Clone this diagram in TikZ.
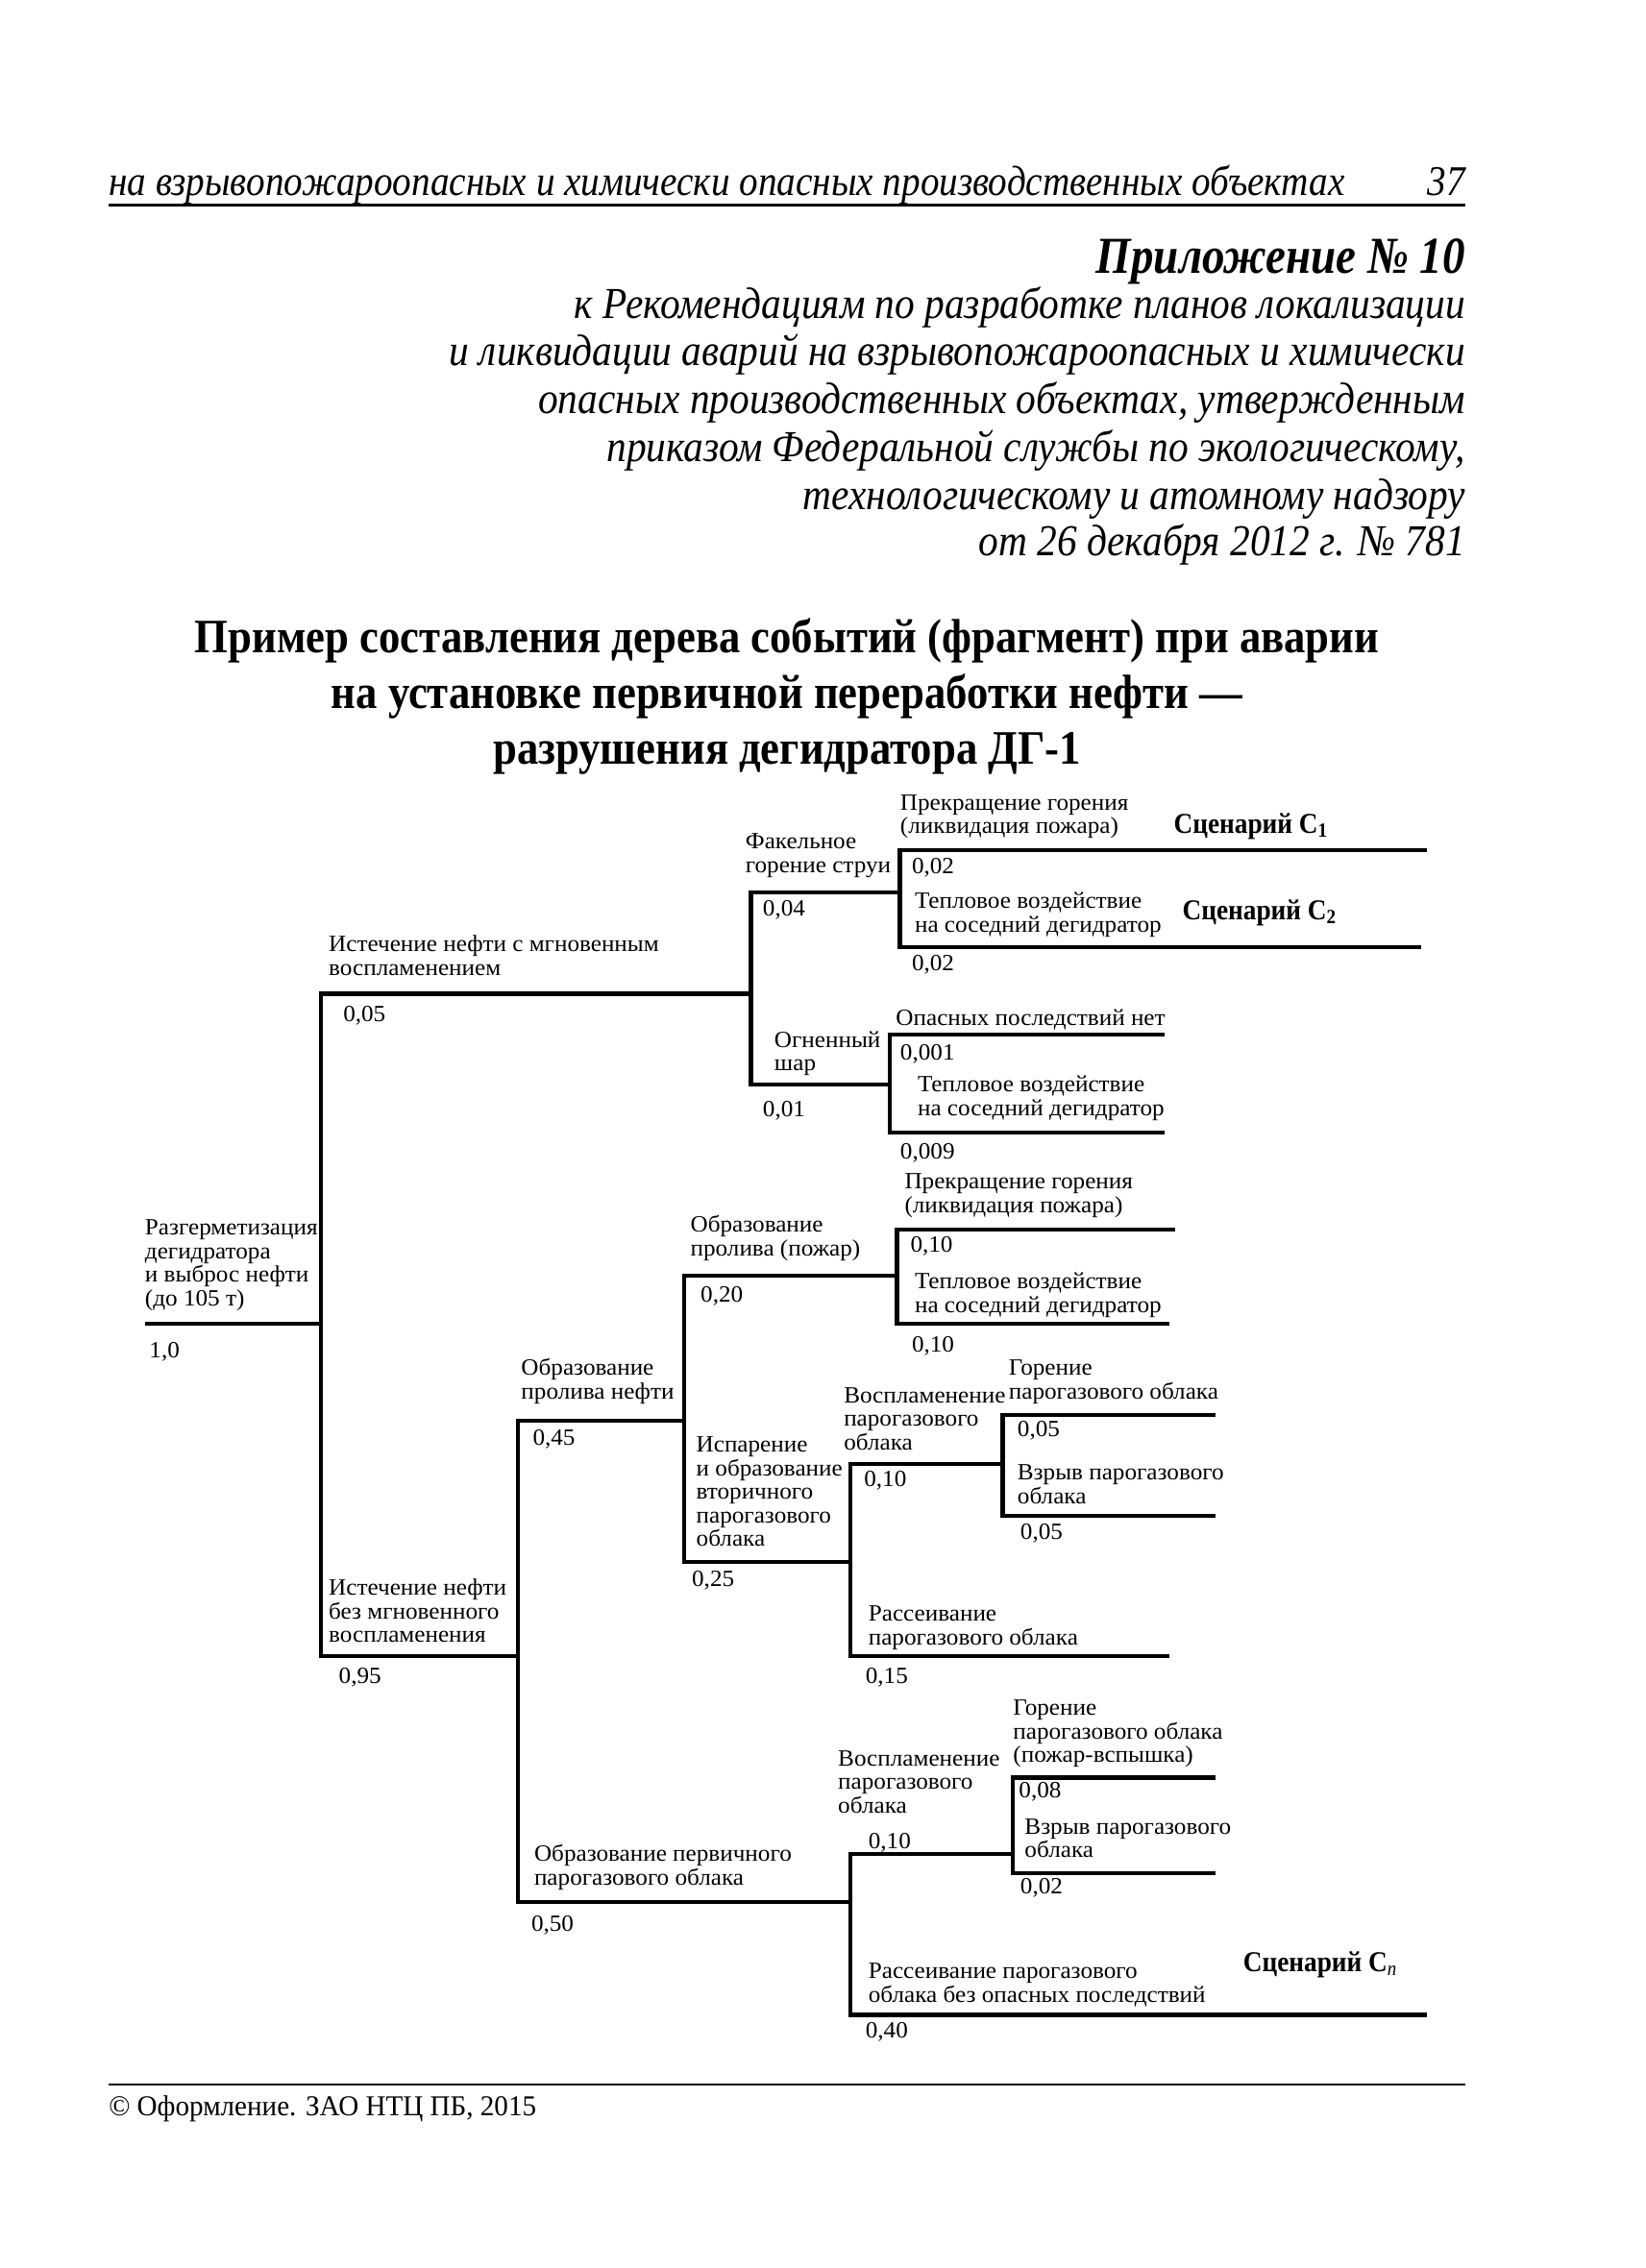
\documentclass[tikz,border=0pt]{standalone}
\usepackage{fontspec}
\setmainfont{Liberation Serif}
\newfontfamily\condserif[FakeStretch=1.04]{Liberation Serif}
\newfontfamily\footserif[FakeStretch=0.97]{Liberation Serif}
\newfontfamily\condital[FakeStretch=0.89]{Liberation Serif Italic}
\newfontfamily\subital[FakeStretch=0.9]{Liberation Serif Italic}
\newfontfamily\condbold[FakeStretch=0.894]{Liberation Serif Bold}
\newfontfamily\scenbold[FakeStretch=0.91]{Liberation Serif Bold}
\newfontfamily\condbi[FakeStretch=0.87]{Liberation Serif Bold Italic}
\newcommand\mlines[1]{\begin{tabular}[t]{@{}l@{}}#1\end{tabular}}
\newcommand\treefs{\condserif\fontsize{12.1}{12.2}\selectfont}
\newcommand\scenfs{\scenbold\fontsize{15}{16}\selectfont}
\begin{document}
\begin{tikzpicture}[x=0.75285pt,y=-0.75285pt,
  lbl/.style={anchor=base west, inner sep=0pt, font=\treefs},
  prob/.style={anchor=base west, inner sep=0pt, font=\treefs},
  scen/.style={anchor=base west, inner sep=0pt, font=\scenfs},
  br/.style={line width=2.1pt, line cap=butt, line join=miter},
  hdr/.style={inner sep=0pt, font=\condital\fontsize{22}{26}\selectfont},
  sub/.style={inner sep=0pt, anchor=base east, font=\subital\fontsize{23}{27}\selectfont},
  ttl/.style={inner sep=0pt, anchor=base, font=\condbold\fontsize{25}{30}\selectfont}]
\useasboundingbox[fill=white] (0,0) rectangle (1137,1568);

% ---------- page header ----------
\node[hdr, anchor=base west] (hdrtxt) at (75,135) {на взрывопожароопасных и химически опасных производственных объектах};
\node[hdr, anchor=base east] (pagenum) at (1013,135) {37};
\coordinate (hrA) at (75,142);
\coordinate (hrB) at (1013,142);
\draw[line width=1.4pt] (hrA) -- (hrB);

\node[inner sep=0pt, anchor=base east, font=\condbi\fontsize{27}{30}\selectfont] (app) at (1013,189) {Приложение №~10};
\node[sub] (s1) at (1013,220) {к Рекомендациям по разработке планов локализации};
\node[sub] (s2) at (1013,253) {и ликвидации аварий на взрывопожароопасных и химически};
\node[sub] (s3) at (1013,286) {опасных производственных объектах, утвержденным};
\node[sub] (s4) at (1013,319) {приказом Федеральной службы по экологическому,};
\node[sub] (s5) at (1013,352) {технологическому и атомному надзору};
\node[sub] (s6) at (1013,384) {от 26 декабря 2012 г. №~781};

% ---------- title ----------
\node[ttl] (t1) at (544,451) {Пример составления дерева событий (фрагмент) при аварии};
\node[ttl] (t2) at (544,490) {на установке первичной переработки нефти —};
\node[ttl] (t3) at (544,528) {разрушения дегидратора ДГ-1};

% ---------- tree coordinates ----------
\coordinate (r0) at (100,915);
\coordinate (r1) at (222,915);
\coordinate (aT) at (222,687);
\coordinate (aB) at (222,1145);
% upper branch
\coordinate (uE) at (519,687);
\coordinate (bT) at (519,617);
\coordinate (bB) at (519,750);
\coordinate (fE) at (622,617);
\coordinate (cT) at (622,588);
\coordinate (cB) at (622,655);
\coordinate (c1E) at (986,588);
\coordinate (c2E) at (982,655);
\coordinate (gE) at (615,750);
\coordinate (dT) at (615,715);
\coordinate (dB) at (615,783);
\coordinate (d1E) at (805,715);
\coordinate (d2E) at (805,783);
% lower branch
\coordinate (lE) at (358,1145);
\coordinate (eT) at (358,982);
\coordinate (eB) at (358,1315);
\coordinate (pE) at (473,982);
\coordinate (hT) at (473,882);
\coordinate (hB) at (473,1080);
\coordinate (iE) at (620,882);
\coordinate (jT) at (620,850);
\coordinate (jB) at (620,915);
\coordinate (j1E) at (812,850);
\coordinate (j2E) at (808,915);
\coordinate (kE) at (588,1080);
\coordinate (mT) at (588,1012);
\coordinate (mB) at (588,1145);
\coordinate (nE) at (693,1012);
\coordinate (oT) at (693,978);
\coordinate (oB) at (693,1048);
\coordinate (o1E) at (840,978);
\coordinate (o2E) at (840,1048);
\coordinate (m2E) at (808,1145);
\coordinate (qE) at (588,1315);
\coordinate (sT) at (588,1282);
\coordinate (sB) at (588,1393);
\coordinate (vE) at (700,1282);
\coordinate (wT) at (700,1229);
\coordinate (wB) at (700,1295);
\coordinate (w1E) at (840,1229);
\coordinate (w2E) at (840,1295);
\coordinate (s2E) at (986,1393);

% ---------- tree branches ----------
\draw[br] (r0) -- (r1);
\draw[br] (uE) -- (aT) -- (aB) -- (lE);
\draw[br] (fE) -- (bT) -- (bB) -- (gE);
\draw[br] (c1E) -- (cT) -- (cB) -- (c2E);
\draw[br] (d1E) -- (dT) -- (dB) -- (d2E);
\draw[br] (pE) -- (eT) -- (eB) -- (qE);
\draw[br] (iE) -- (hT) -- (hB) -- (kE);
\draw[br] (j1E) -- (jT) -- (jB) -- (j2E);
\draw[br] (nE) -- (mT) -- (mB) -- (m2E);
\draw[br] (o1E) -- (oT) -- (oB) -- (o2E);
\draw[br] (vE) -- (sT) -- (sB) -- (s2E);
\draw[br] (w1E) -- (wT) -- (wB) -- (w2E);

% ---------- tree texts ----------
\node[lbl] (root) at (100,854) {\mlines{Разгерметизация\\дегидратора\\и выброс нефти\\(до 105 т)}};
\node[prob] (p10) at (103,939) {1,0};

\node[lbl] (ev1) at (227,658) {\mlines{Истечение нефти с мгновенным\\воспламенением}};
\node[prob] (p005) at (237,706) {0,05};

\node[lbl] (ev2) at (515,587) {\mlines{Факельное\\горение струи}};
\node[prob] (p004) at (527,633) {0,04};

\node[lbl] (ev3) at (622,560) {\mlines{Прекращение горения\\(ликвидация пожара)}};
\node[scen] (sc1) at (811,576) {Сценарий С\textsubscript{1}};
\node[prob] (p002a) at (630,604) {0,02};

\node[lbl] (ev4) at (632,628) {\mlines{Тепловое воздействие\\на соседний дегидратор}};
\node[scen] (sc2) at (817,636) {Сценарий С\textsubscript{2}};
\node[prob] (p002b) at (630,671) {0,02};

\node[lbl] (ev5) at (535,724) {\mlines{Огненный\\шар}};
\node[prob] (p001) at (527,772) {0,01};

\node[lbl] (ev6) at (619,709) {Опасных последствий нет};
\node[prob] (p0001) at (622,733) {0,001};

\node[lbl] (ev7) at (634,755) {\mlines{Тепловое воздействие\\на соседний дегидратор}};
\node[prob] (p0009) at (622,801) {0,009};

\node[lbl] (ev8) at (625,822) {\mlines{Прекращение горения\\(ликвидация пожара)}};
\node[prob] (p010a) at (629,866) {0,10};

\node[lbl] (ev9) at (477,852) {\mlines{Образование\\пролива (пожар)}};
\node[prob] (p020) at (484,900) {0,20};

\node[lbl] (ev10) at (632,891) {\mlines{Тепловое воздействие\\на соседний дегидратор}};
\node[prob] (p010b) at (630,935) {0,10};

\node[lbl] (ev11) at (360,951) {\mlines{Образование\\пролива нефти}};
\node[prob] (p045) at (368,999) {0,45};

\node[lbl] (ev12) at (481,1004) {\mlines{Испарение\\и образование\\вторичного\\парогазового\\облака}};
\node[prob] (p025) at (478,1097) {0,25};

\node[lbl] (ev13) at (583,970) {\mlines{Воспламенение\\парогазового\\облака}};
\node[prob] (p010c) at (597,1028) {0,10};

\node[lbl] (ev14) at (697,951) {\mlines{Горение\\парогазового облака}};
\node[prob] (p005b) at (703,993) {0,05};

\node[lbl] (ev15) at (703,1023) {\mlines{Взрыв парогазового\\облака}};
\node[prob] (p005c) at (705,1064) {0,05};

\node[lbl] (ev16) at (600,1121) {\mlines{Рассеивание\\парогазового облака}};
\node[prob] (p015) at (598,1164) {0,15};

\node[lbl] (ev17) at (227,1103) {\mlines{Истечение нефти\\без мгновенного\\воспламенения}};
\node[prob] (p095) at (234,1164) {0,95};

\node[lbl] (ev18) at (369,1287) {\mlines{Образование первичного\\парогазового облака}};
\node[prob] (p050) at (367,1335) {0,50};

\node[lbl] (ev19) at (579,1221) {\mlines{Воспламенение\\парогазового\\облака}};
\node[prob] (p010d) at (600,1278) {0,10};

\node[lbl] (ev20) at (700,1186) {\mlines{Горение\\парогазового облака\\(пожар-вспышка)}};
\node[prob] (p008) at (704,1243) {0,08};

\node[lbl] (ev21) at (708,1268) {\mlines{Взрыв парогазового\\облака}};
\node[prob] (p002c) at (705,1309) {0,02};

\node[lbl] (ev22) at (600,1368) {\mlines{Рассеивание парогазового\\облака без опасных последствий}};
\node[scen] (scn) at (859,1363) {Сценарий С\textsubscript{\subital n}};
\node[prob] (p040) at (598,1409) {0,40};

% ---------- footer ----------
\coordinate (frA) at (75,1441);
\coordinate (frB) at (1013,1441);
\draw[line width=0.9pt] (frA) -- (frB);
\node[inner sep=0pt, anchor=base west, font=\footserif\fontsize{15}{17}\selectfont] (foot) at (75,1463) {©\ Оформление. ЗАО НТЦ ПБ, 2015};
\end{tikzpicture}
\end{document}
